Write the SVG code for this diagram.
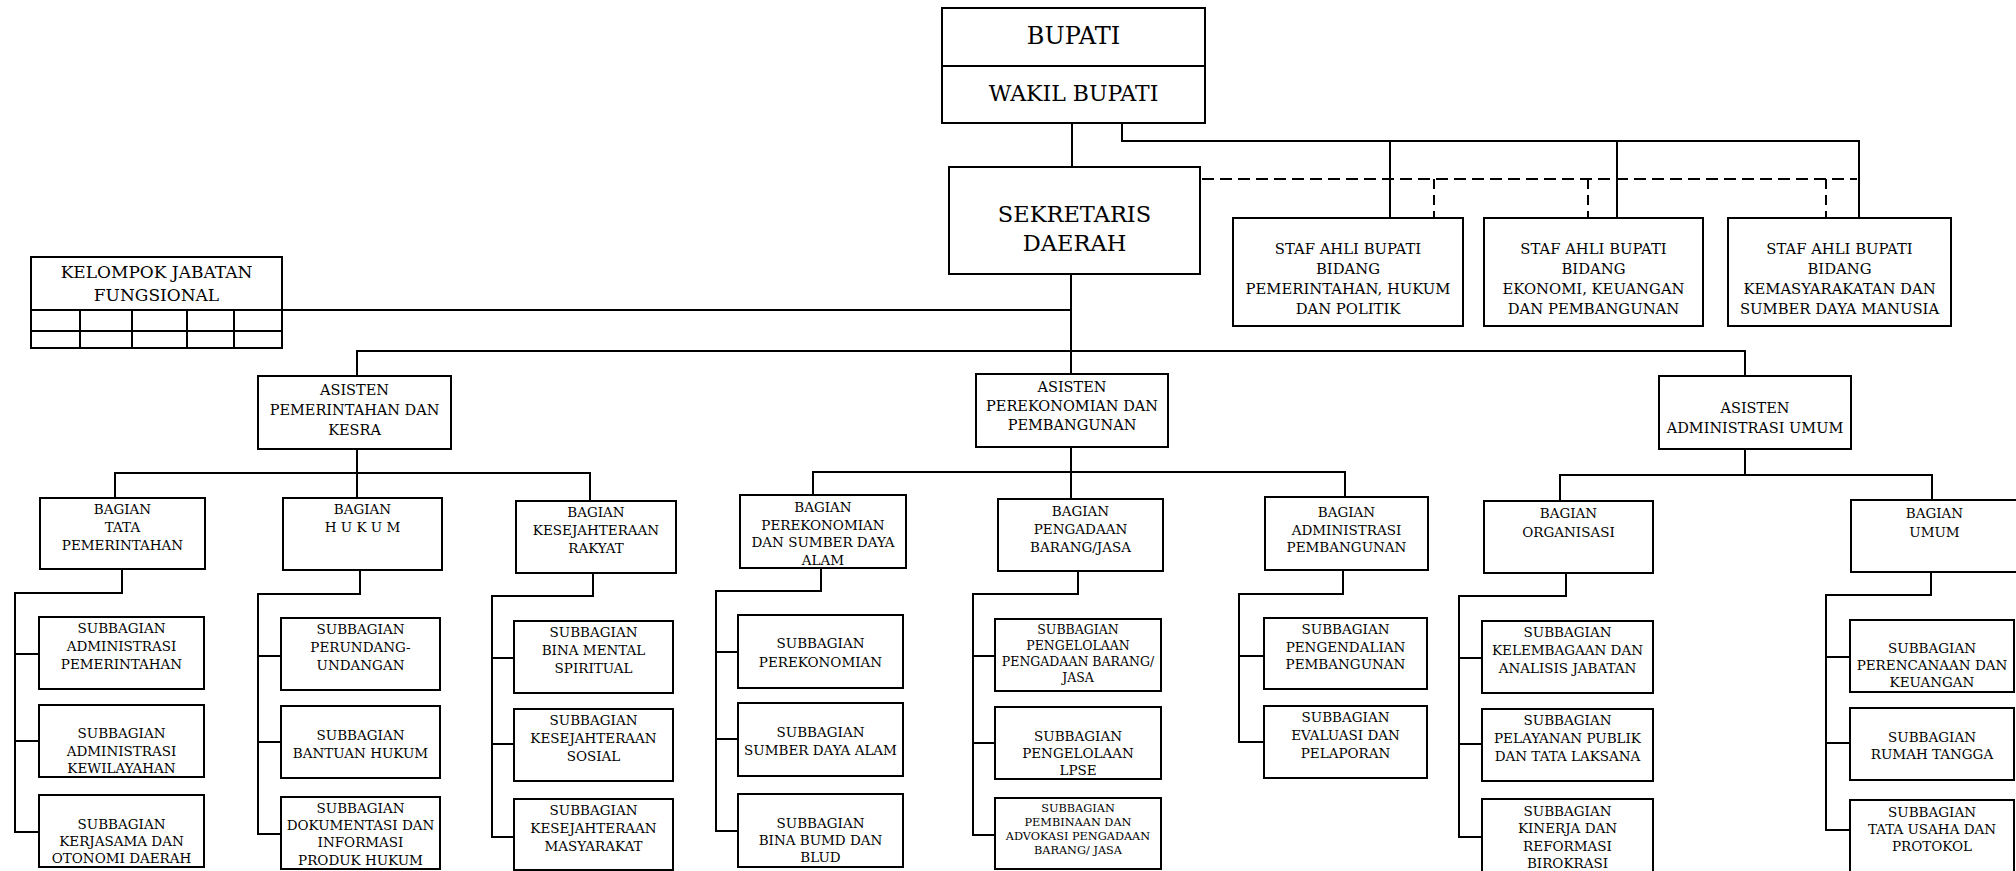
<svg xmlns="http://www.w3.org/2000/svg" width="2016" height="871" viewBox="0 0 2016 871">
<style>
.b{fill:#fff;stroke:#000;stroke-width:2}
.c{fill:none;stroke:#000;stroke-width:2}
.d{fill:none;stroke:#000;stroke-width:2;stroke-dasharray:12 6}
.dv{fill:none;stroke:#000;stroke-width:2;stroke-dasharray:10 6}
text{font-family:"DejaVu Serif","Liberation Serif",serif;text-anchor:middle;fill:#000}
.t{font-size:13.5px}
.s{font-size:14.8px}
.a{font-size:14.5px}
</style>
<rect width="2016" height="871" fill="#fff"/>
<g id="connectors">
<path class="c" d="M1072,123V167"/>
<path class="c" d="M1122,123V141H1859V218M1390,141V218M1617,141V218"/>
<path class="d" d="M1202,179H1857"/>
<path class="dv" d="M1434,179V218M1588,179V218M1826,179V218"/>
<path class="c" d="M1071,274V374"/>
<path class="c" d="M282,310H1071"/>
<path class="c" d="M357,376V351H1745V376"/>
<path class="c" d="M357,449V498M115,498V473H590V501"/>
<path class="c" d="M1071,447V499M813,495V472H1345V497"/>
<path class="c" d="M1745,449V475M1560,501V475H1932V500"/>
<path class="c" d="M122,569V593H15V832H39M15,654H39M15,741H39"/>
<path class="c" d="M360,570V594H258V834H281M258,656H281M258,742H281"/>
<path class="c" d="M593,573V596H492V837H514M492,658H514M492,744H514"/>
<path class="c" d="M821,568V591H716V831H738M716,652H738M716,739H738"/>
<path class="c" d="M1078,571V594H973V835H995M973,656H995M973,743H995"/>
<path class="c" d="M1343,570V594H1239V742H1264M1239,656H1264"/>
<path class="c" d="M1566,573V596H1459V837H1482M1459,658H1482M1459,744H1482"/>
<path class="c" d="M1931,572V595H1826V830H1850M1826,657H1850M1826,743H1850"/>
</g>
<g id="bupati">
<rect class="b" x="942" y="8" width="263" height="115"/>
<path class="c" d="M942,66H1205"/>
<text x="1073.5" y="44" style="font-size:24px">BUPATI</text>
<text x="1073.5" y="101" style="font-size:22px">WAKIL BUPATI</text>
</g>
<g id="sekda">
<rect class="b" x="949" y="167" width="251" height="107"/>
<text x="1074.5" y="222" style="font-size:22.5px">SEKRETARIS</text>
<text x="1074.5" y="251" style="font-size:22.5px">DAERAH</text>
</g>
<g id="staf1">
<rect class="b" x="1233" y="218" width="230" height="108"/>
<text class="s" x="1348"><tspan x="1348" y="254">STAF AHLI BUPATI</tspan><tspan x="1348" y="274">BIDANG</tspan><tspan x="1348" y="294">PEMERINTAHAN, HUKUM</tspan><tspan x="1348" y="314">DAN POLITIK</tspan></text>
</g>
<g id="staf2">
<rect class="b" x="1484" y="218" width="219" height="108"/>
<text class="s" x="1593.5"><tspan x="1593.5" y="254">STAF AHLI BUPATI</tspan><tspan x="1593.5" y="274">BIDANG</tspan><tspan x="1593.5" y="294">EKONOMI, KEUANGAN</tspan><tspan x="1593.5" y="314">DAN PEMBANGUNAN</tspan></text>
</g>
<g id="staf3">
<rect class="b" x="1728" y="218" width="223" height="108"/>
<text class="s" x="1839.5"><tspan x="1839.5" y="254">STAF AHLI BUPATI</tspan><tspan x="1839.5" y="274">BIDANG</tspan><tspan x="1839.5" y="294">KEMASYARAKATAN DAN</tspan><tspan x="1839.5" y="314">SUMBER DAYA MANUSIA</tspan></text>
</g>
<g id="kelompok">
<rect class="b" x="31" y="257" width="251" height="91"/>
<path class="c" d="M31,310H282M31,331H282M80,310V348M132,310V348M187,310V348M234,310V348"/>
<text x="156.5" y="278" style="font-size:17px">KELOMPOK JABATAN</text>
<text x="156.5" y="301" style="font-size:17px">FUNGSIONAL</text>
</g>
<g id="asisten-pem">
<rect class="b" x="258" y="376" width="193" height="73"/>
<text class="a"><tspan x="354.5" y="395">ASISTEN</tspan><tspan x="354.5" y="415">PEMERINTAHAN DAN</tspan><tspan x="354.5" y="435">KESRA</tspan></text>
</g>
<g id="asisten-perek">
<rect class="b" x="976" y="374" width="192" height="73"/>
<text class="a"><tspan x="1072" y="392">ASISTEN</tspan><tspan x="1072" y="411">PEREKONOMIAN DAN</tspan><tspan x="1072" y="430">PEMBANGUNAN</tspan></text>
</g>
<g id="asisten-adm">
<rect class="b" x="1659" y="376" width="192" height="73"/>
<text class="a"><tspan x="1755" y="413">ASISTEN</tspan><tspan x="1755" y="433">ADMINISTRASI UMUM</tspan></text>
</g>
<g id="bagian-tata">
<rect class="b" x="40" y="498" width="165" height="71"/>
<text class="t"><tspan x="122.5" y="514">BAGIAN</tspan><tspan x="122.5" y="532">TATA</tspan><tspan x="122.5" y="550">PEMERINTAHAN</tspan></text>
</g>
<g id="bagian-hukum">
<rect class="b" x="283" y="498" width="159" height="72"/>
<text class="t"><tspan x="362.5" y="514">BAGIAN</tspan><tspan x="362.5" y="532">H U K U M</tspan></text>
</g>
<g id="bagian-kesra">
<rect class="b" x="516" y="501" width="160" height="72"/>
<text class="t"><tspan x="596" y="517">BAGIAN</tspan><tspan x="596" y="535">KESEJAHTERAAN</tspan><tspan x="596" y="553">RAKYAT</tspan></text>
</g>
<g id="bagian-perek">
<rect class="b" x="740" y="495" width="166" height="73"/>
<text class="t"><tspan x="823" y="512">BAGIAN</tspan><tspan x="823" y="529.5">PEREKONOMIAN</tspan><tspan x="823" y="547">DAN SUMBER DAYA</tspan><tspan x="823" y="564.5">ALAM</tspan></text>
</g>
<g id="bagian-pengadaan">
<rect class="b" x="998" y="499" width="165" height="72"/>
<text class="t"><tspan x="1080.5" y="516">BAGIAN</tspan><tspan x="1080.5" y="534">PENGADAAN</tspan><tspan x="1080.5" y="552">BARANG/JASA</tspan></text>
</g>
<g id="bagian-admpemb">
<rect class="b" x="1265" y="497" width="163" height="73"/>
<text class="t"><tspan x="1346.5" y="517">BAGIAN</tspan><tspan x="1346.5" y="535">ADMINISTRASI</tspan><tspan x="1346.5" y="552">PEMBANGUNAN</tspan></text>
</g>
<g id="bagian-organisasi">
<rect class="b" x="1484" y="501" width="169" height="72"/>
<text class="t"><tspan x="1568.5" y="518">BAGIAN</tspan><tspan x="1568.5" y="537">ORGANISASI</tspan></text>
</g>
<g id="bagian-umum">
<rect class="b" x="1851" y="500" width="167" height="72"/>
<text class="t"><tspan x="1934.5" y="518">BAGIAN</tspan><tspan x="1934.5" y="537">UMUM</tspan></text>
</g>
<g id="sub-tata-1"><rect class="b" x="39" y="617" width="165" height="72"/><text class="t"><tspan x="121.5" y="633">SUBBAGIAN</tspan><tspan x="121.5" y="651">ADMINISTRASI</tspan><tspan x="121.5" y="669">PEMERINTAHAN</tspan></text></g>
<g id="sub-tata-2"><rect class="b" x="39" y="705" width="165" height="72"/><text class="t"><tspan x="121.5" y="738">SUBBAGIAN</tspan><tspan x="121.5" y="756">ADMINISTRASI</tspan><tspan x="121.5" y="773">KEWILAYAHAN</tspan></text></g>
<g id="sub-tata-3"><rect class="b" x="39" y="795" width="165" height="72"/><text class="t"><tspan x="121.5" y="829">SUBBAGIAN</tspan><tspan x="121.5" y="846">KERJASAMA DAN</tspan><tspan x="121.5" y="863">OTONOMI DAERAH</tspan></text></g>
<g id="sub-hukum-1"><rect class="b" x="281" y="618" width="159" height="72"/><text class="t"><tspan x="360.5" y="634">SUBBAGIAN</tspan><tspan x="360.5" y="652">PERUNDANG-</tspan><tspan x="360.5" y="670">UNDANGAN</tspan></text></g>
<g id="sub-hukum-2"><rect class="b" x="281" y="706" width="159" height="72"/><text class="t"><tspan x="360.5" y="740">SUBBAGIAN</tspan><tspan x="360.5" y="758">BANTUAN HUKUM</tspan></text></g>
<g id="sub-hukum-3"><rect class="b" x="281" y="797" width="159" height="72"/><text class="t"><tspan x="360.5" y="813">SUBBAGIAN</tspan><tspan x="360.5" y="830">DOKUMENTASI DAN</tspan><tspan x="360.5" y="847">INFORMASI</tspan><tspan x="360.5" y="865">PRODUK HUKUM</tspan></text></g>
<g id="sub-kesra-1"><rect class="b" x="514" y="621" width="159" height="72"/><text class="t"><tspan x="593.5" y="637">SUBBAGIAN</tspan><tspan x="593.5" y="655">BINA MENTAL</tspan><tspan x="593.5" y="673">SPIRITUAL</tspan></text></g>
<g id="sub-kesra-2"><rect class="b" x="514" y="709" width="159" height="72"/><text class="t"><tspan x="593.5" y="725">SUBBAGIAN</tspan><tspan x="593.5" y="743">KESEJAHTERAAN</tspan><tspan x="593.5" y="761">SOSIAL</tspan></text></g>
<g id="sub-kesra-3"><rect class="b" x="514" y="799" width="159" height="71"/><text class="t"><tspan x="593.5" y="815">SUBBAGIAN</tspan><tspan x="593.5" y="833">KESEJAHTERAAN</tspan><tspan x="593.5" y="851">MASYARAKAT</tspan></text></g>
<g id="sub-perek-1"><rect class="b" x="738" y="615" width="165" height="73"/><text class="t"><tspan x="820.5" y="648">SUBBAGIAN</tspan><tspan x="820.5" y="667">PEREKONOMIAN</tspan></text></g>
<g id="sub-perek-2"><rect class="b" x="738" y="703" width="165" height="73"/><text class="t"><tspan x="820.5" y="737">SUBBAGIAN</tspan><tspan x="820.5" y="755">SUMBER DAYA ALAM</tspan></text></g>
<g id="sub-perek-3"><rect class="b" x="738" y="794" width="165" height="73"/><text class="t"><tspan x="820.5" y="828">SUBBAGIAN</tspan><tspan x="820.5" y="845">BINA BUMD DAN</tspan><tspan x="820.5" y="862">BLUD</tspan></text></g>
<g id="sub-pengadaan-1"><rect class="b" x="995" y="619" width="166" height="72"/><text style="font-size:12.5px"><tspan x="1078" y="633.5">SUBBAGIAN</tspan><tspan x="1078" y="649.5">PENGELOLAAN</tspan><tspan x="1078" y="665.5">PENGADAAN BARANG/</tspan><tspan x="1078" y="681.5">JASA</tspan></text></g>
<g id="sub-pengadaan-2"><rect class="b" x="995" y="707" width="166" height="72"/><text class="t"><tspan x="1078" y="741">SUBBAGIAN</tspan><tspan x="1078" y="758">PENGELOLAAN</tspan><tspan x="1078" y="775">LPSE</tspan></text></g>
<g id="sub-pengadaan-3"><rect class="b" x="995" y="798" width="166" height="71"/><text style="font-size:11.3px"><tspan x="1078" y="812">SUBBAGIAN</tspan><tspan x="1078" y="826">PEMBINAAN DAN</tspan><tspan x="1078" y="840">ADVOKASI PENGADAAN</tspan><tspan x="1078" y="854">BARANG/ JASA</tspan></text></g>
<g id="sub-admpemb-1"><rect class="b" x="1264" y="618" width="163" height="71"/><text class="t"><tspan x="1345.5" y="634">SUBBAGIAN</tspan><tspan x="1345.5" y="652">PENGENDALIAN</tspan><tspan x="1345.5" y="669">PEMBANGUNAN</tspan></text></g>
<g id="sub-admpemb-2"><rect class="b" x="1264" y="706" width="163" height="72"/><text class="t"><tspan x="1345.5" y="722">SUBBAGIAN</tspan><tspan x="1345.5" y="740">EVALUASI DAN</tspan><tspan x="1345.5" y="758">PELAPORAN</tspan></text></g>
<g id="sub-org-1"><rect class="b" x="1482" y="621" width="171" height="72"/><text class="t"><tspan x="1567.5" y="637">SUBBAGIAN</tspan><tspan x="1567.5" y="655">KELEMBAGAAN DAN</tspan><tspan x="1567.5" y="673">ANALISIS JABATAN</tspan></text></g>
<g id="sub-org-2"><rect class="b" x="1482" y="709" width="171" height="72"/><text class="t"><tspan x="1567.5" y="725">SUBBAGIAN</tspan><tspan x="1567.5" y="743">PELAYANAN PUBLIK</tspan><tspan x="1567.5" y="761">DAN TATA LAKSANA</tspan></text></g>
<g id="sub-org-3"><rect class="b" x="1482" y="799" width="171" height="74"/><text class="t"><tspan x="1567.5" y="816">SUBBAGIAN</tspan><tspan x="1567.5" y="833">KINERJA DAN</tspan><tspan x="1567.5" y="851">REFORMASI</tspan><tspan x="1567.5" y="868">BIROKRASI</tspan></text></g>
<g id="sub-umum-1"><rect class="b" x="1850" y="620" width="164" height="72"/><text class="t"><tspan x="1932" y="653">SUBBAGIAN</tspan><tspan x="1932" y="670">PERENCANAAN DAN</tspan><tspan x="1932" y="687">KEUANGAN</tspan></text></g>
<g id="sub-umum-2"><rect class="b" x="1850" y="708" width="164" height="72"/><text class="t"><tspan x="1932" y="742">SUBBAGIAN</tspan><tspan x="1932" y="759">RUMAH TANGGA</tspan></text></g>
<g id="sub-umum-3"><rect class="b" x="1850" y="800" width="164" height="74"/><text class="t"><tspan x="1932" y="817">SUBBAGIAN</tspan><tspan x="1932" y="834">TATA USAHA DAN</tspan><tspan x="1932" y="851">PROTOKOL</tspan></text></g>
</svg>
